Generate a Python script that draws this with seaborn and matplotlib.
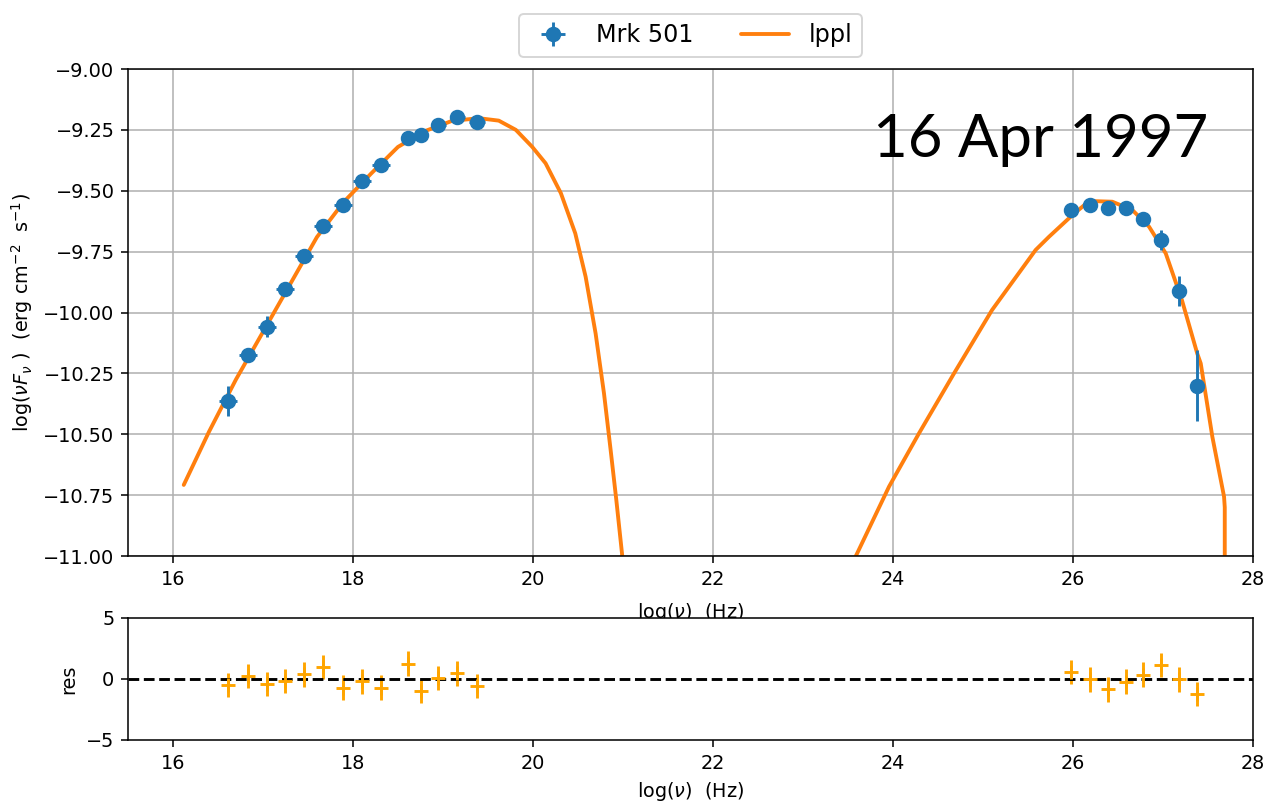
import matplotlib
matplotlib.use("Agg")
import numpy as np
import pandas as pd
import matplotlib.pyplot as plt
from matplotlib.lines import Line2D
import seaborn as sns

# ---- observed SED of Mrk 501 (16 Apr 1997) ----
log_nu = [16.61, 16.83, 17.04, 17.25, 17.46, 17.67, 17.89, 18.10, 18.31,
          18.61, 18.76, 18.95, 19.16, 19.38,
          25.98, 26.185, 26.385, 26.585, 26.78, 26.98, 27.18, 27.383]
log_nufnu = [-10.363, -10.176, -10.058, -9.904, -9.768, -9.643, -9.557, -9.461, -9.393,
             -9.283, -9.270, -9.228, -9.198, -9.219,
             -9.579, -9.560, -9.571, -9.572, -9.617, -9.702, -9.912, -10.300]
err_log_nu = [0.10, 0.10, 0.10, 0.10, 0.10, 0.10, 0.10, 0.10, 0.10,
              0.04, 0.04, 0.08, 0.08, 0.09,
              0, 0, 0, 0, 0, 0, 0, 0]
err_log_nufnu = [0.063, 0.02, 0.042, 0.02, 0.02, 0.02, 0.015, 0.015, 0.015,
                 0.01, 0.01, 0.01, 0.01, 0.015,
                 0.02, 0.025, 0.015, 0.015, 0.02, 0.04, 0.06, 0.145]

# ---- fit residuals (data - model) / error ----
residuals = [-0.49, 0.27, -0.41, -0.16, 0.38, 0.96, -0.71, -0.19, -0.71,
             1.26, -0.96, 0.08, 0.46, -0.55,
             0.55, -0.04, -0.85, -0.22, 0.36, 1.15, -0.03, -1.23]

# ---- lppl model, synchrotron and inverse Compton branches ----
model_sync_x = [16.12, 16.40, 16.70, 17.00, 17.30, 17.60, 17.90, 18.20, 18.50,
                18.80, 19.10, 19.40, 19.62, 19.81, 19.99, 20.14, 20.31, 20.47,
                20.585, 20.696, 20.789, 20.863, 20.926, 20.993, 21.02]
model_sync_y = [-10.708, -10.49, -10.275, -10.08, -9.885, -9.69, -9.545, -9.43, -9.32,
                -9.255, -9.213, -9.202, -9.212, -9.250, -9.319, -9.387, -9.510, -9.675,
                -9.853, -10.086, -10.332, -10.565, -10.770, -11.003, -11.15]
model_ic_x = [23.55, 23.585, 23.956, 24.289, 24.678, 25.10, 25.585, 25.733, 25.993,
              26.18, 26.437, 26.659, 26.844, 27.03, 27.21, 27.38, 27.419, 27.548,
              27.678, 27.686, 27.686]
model_ic_y = [-11.08, -11.002, -10.715, -10.496, -10.250, -9.990, -9.743, -9.689, -9.600,
              -9.542, -9.545, -9.579, -9.647, -9.757, -9.949, -10.168, -10.209, -10.51,
              -10.756, -10.80, -11.10]

x_ticks = [16, 18, 20, 22, 24, 26, 28]
y_ticks = [-9.00, -9.25, -9.50, -9.75, -10.00, -10.25, -10.50, -10.75, -11.00]
res_ticks = [-5, 0, 5]

model = pd.DataFrame({
    "log_nu": model_sync_x + model_ic_x,
    "log_nufnu": model_sync_y + model_ic_y,
    "branch": ["sync"] * len(model_sync_x) + ["ic"] * len(model_ic_x),
})

sns.set_style("white")
plt.rcParams.update({
    "font.family": ["DejaVu Sans"],
    "font.size": 10,
    "axes.edgecolor": "black",
    "axes.linewidth": 0.8,
    "xtick.bottom": True,
    "ytick.left": True,
    "xtick.color": "black",
    "ytick.color": "black",
    "axes.labelcolor": "black",
    "text.color": "black",
    "mathtext.fontset": "dejavusans",
})

DPI = 139
fig = plt.figure(figsize=(1263 / DPI, 809 / DPI), dpi=DPI)
ax = fig.add_axes([0.1013, 0.3127, 0.8908, 0.6020])
axr = fig.add_axes([0.1013, 0.0853, 0.8908, 0.1508])

blue = "#1f77b4"
orange = "#ff7f0e"

ax.grid(True, color="#b0b0b0", linewidth=0.8)
ax.set_axisbelow(True)

ax.errorbar(log_nu, log_nufnu, xerr=err_log_nu, yerr=err_log_nufnu,
            fmt="o", color=blue, ms=7, elinewidth=1.5, capsize=0, zorder=3)
sns.lineplot(data=model, x="log_nu", y="log_nufnu", units="branch",
             estimator=None, sort=False, color=orange, lw=2, ax=ax,
             legend=False, zorder=2)

ax.set_xlim(15.5, 28)
ax.set_ylim(-11.0, -9.0)
ax.set_xticks(x_ticks)
ax.set_yticks(y_ticks)
ax.set_yticklabels([f"{v:.2f}".replace("-", "\u2212") for v in y_ticks])
ax.set_xlabel(r"log($\nu$)  (Hz)", labelpad=6.5)
ax.set_ylabel(r"log($\nu F_{\nu}$ )  (erg cm$^{-2}$  s$^{-1}$)")

ax.text(0.662, 0.819, "16 Apr 1997", transform=ax.transAxes,
        fontsize=31, family=["Lato", "DejaVu Sans"], va="baseline", ha="left")

data_handle = ax.errorbar([], [], xerr=[], yerr=[], fmt="o", color=blue, ms=7)
line_handle = Line2D([], [], color=orange, lw=2)
ax.legend([data_handle, line_handle], ["Mrk 501", "lppl"], ncol=2,
          loc="lower center", bbox_to_anchor=(0.5, 1.0), fontsize=12.4,
          frameon=True, edgecolor="#cccccc", fancybox=True)

# residual panel
axr.errorbar(log_nu, residuals, yerr=[1.0] * len(residuals), fmt="+",
             color="orange", ms=7, mew=1.5, elinewidth=1.5, capsize=0)
axr.axhline(0, color="black", ls="--", lw=1.5)
axr.set_xlim(15.5, 28)
axr.set_ylim(-5, 5)
axr.set_xticks(x_ticks)
axr.set_yticks(res_ticks)
axr.set_yticklabels([str(v).replace("-", "\u2212") for v in res_ticks])
axr.set_xlabel(r"log($\nu$)  (Hz)")
axr.set_ylabel("res")

for a in (ax, axr):
    a.tick_params(direction="out", length=3.5, width=0.8)
    for s in a.spines.values():
        s.set_visible(True)
        s.set_color("black")

fig.savefig("out.png", dpi=DPI)
